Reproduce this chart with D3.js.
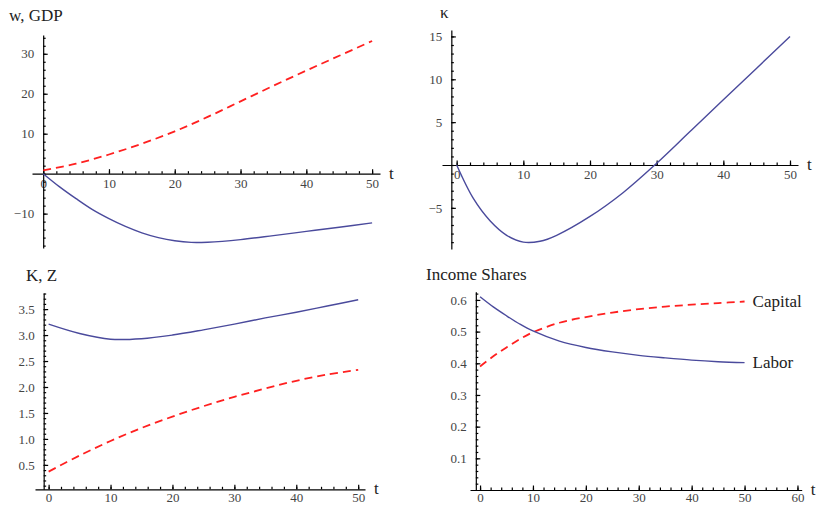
<!DOCTYPE html>
<html>
<head>
<meta charset="utf-8">
<script src="https://cdn.jsdelivr.net/npm/d3@7"></script>
<style>
  body { margin: 0; background: #fff; }
  svg text { font-family: "Liberation Serif", "DejaVu Serif", serif; }
  .axis path, .axis line { stroke: #000; stroke-width: 1.2px; }
  .line { fill: none; }
</style>
</head>
<body>
<div id="svg"></div>
<script>
// panel 1: w and GDP
var t1 = [0, 2.5, 5, 7.5, 10, 12.5, 15, 17.5, 20, 22.5, 25, 30, 35, 40, 45, 50];
var w_vals = [0, -3.3, -6.25, -9.0, -11.25, -13.2, -14.8, -16.0, -16.8, -17.2, -17.15, -16.5, -15.5, -14.45, -13.4, -12.3];
var tg = [0, 5, 10, 15, 20, 25, 30, 35, 40, 45, 50];
var gdp_vals = [0.8, 2.5, 4.8, 7.5, 10.6, 14.2, 18.1, 22.0, 25.8, 29.5, 33.2];

// panel 2: kappa
var t2 = [0, 2.5, 5, 7.5, 10, 12.5, 15, 20, 25, 30, 35, 40, 45, 50];
var kappa_vals = [0, -3.9, -6.5, -8.2, -9.0, -8.9, -8.2, -6.0, -3.2, 0.2, 3.9, 7.6, 11.3, 15.0];

// panel 3: K and Z
var t3 = [0, 5, 10, 15, 20, 25, 30, 35, 40, 45, 50];
var k_vals = [3.21, 3.03, 2.92, 2.93, 3.00, 3.10, 3.21, 3.33, 3.44, 3.56, 3.68];
var z_vals = [0.37, 0.68, 0.96, 1.21, 1.43, 1.63, 1.81, 1.97, 2.12, 2.24, 2.33];

// panel 4: income shares
var t4 = [0, 2.5, 5, 7.5, 10, 15, 20, 25, 30, 35, 40, 45, 50];
var labor_vals = [0.61, 0.578, 0.55, 0.524, 0.502, 0.47, 0.45, 0.436, 0.425, 0.417, 0.41, 0.405, 0.402];
var capital_vals = [0.39, 0.422, 0.45, 0.476, 0.498, 0.528, 0.546, 0.56, 0.571, 0.579, 0.585, 0.59, 0.595];

var blue = "#4a4a9c";
var red = "#ff2020";
var serif = "'Liberation Serif', 'DejaVu Serif', serif";

var svg = d3.select("#svg").append("svg")
  .attr("width", 820)
  .attr("height", 506);

function zip(ts, vs) {
  return ts.map(function(t, i) { return {t: t, v: vs[i]}; });
}

function range_ticks(a, b, step) {
  var out = [];
  var n = Math.round((b - a) / step);
  for (var i = 0; i <= n; i++) out.push(+(a + i * step).toFixed(4));
  return out;
}

function style_axis(s) {
  s.attr("font-family", serif).attr("font-size", 13);
  s.selectAll("text").attr("fill", "#444").attr("font-family", serif);
}

function panel(cfg) {
  var g = svg.append("g");
  var x = d3.scaleLinear().domain(cfg.xdom).range(cfg.xr);
  var y = d3.scaleLinear().domain(cfg.ydom).range(cfg.yr);

  var xaxis_y = y(cfg.xcross);
  var yaxis_x = x(cfg.ycross);

  // minor ticks first
  g.append("g")
  .attr("class", "axis")
  .attr("transform", "translate(0," + xaxis_y + ")")
  .call(d3.axisBottom(x).tickValues(cfg.xminor).tickSize(-2.5).tickSizeOuter(0).tickFormat(""));

  g.append("g")
  .attr("class", "axis")
  .attr("transform", "translate(0," + xaxis_y + ")")
  .call(d3.axisBottom(x).tickValues(cfg.xmajor).tickSize(-4.5).tickSizeOuter(0).tickPadding(cfg.xpad))
  .call(function(s) { s.select(".domain").remove(); })
  .call(style_axis);

  g.append("g")
  .attr("class", "axis")
  .attr("transform", "translate(" + yaxis_x + ",0)")
  .call(d3.axisLeft(y).tickValues(cfg.yminor).tickSize(-2.5).tickSizeOuter(0).tickFormat(""));

  g.append("g")
  .attr("class", "axis")
  .attr("transform", "translate(" + yaxis_x + ",0)")
  .call(d3.axisLeft(y).tickValues(cfg.ymajor).tickSize(-4.5).tickSizeOuter(0).tickPadding(9).tickFormat(cfg.yfmt))
  .call(function(s) { s.select(".domain").remove(); })
  .call(style_axis);

  var line = d3.line()
  .x(function(d) { return x(d.t); })
  .y(function(d) { return y(d.v); })
  .curve(d3.curveCatmullRom.alpha(0.5));

  cfg.series.forEach(function(s) {
    g.append("path")
    .datum(s.data)
    .attr("class", "line")
    .attr("d", line)
    .attr("stroke", s.color)
    .attr("stroke-width", s.dash ? 1.8 : 1.4)
    .attr("stroke-dasharray", s.dash ? "8,5" : null);
  });

  g.append("text")
  .text("t")
  .attr("x", cfg.xr[1] + 9)
  .attr("y", xaxis_y + 5)
  .attr("font-size", 17)
  .attr("font-family", serif)
  .attr("fill", "#222");

  g.append("text")
  .text(cfg.title)
  .attr("x", cfg.titlePos[0])
  .attr("y", cfg.titlePos[1])
  .attr("font-size", 17)
  .attr("font-family", serif)
  .attr("fill", "#222");

  (cfg.labels || []).forEach(function(l) {
    g.append("text")
    .text(l.text)
    .attr("x", x(l.t) + 8)
    .attr("y", y(l.v) + 5)
    .attr("font-size", 17)
    .attr("font-family", serif)
    .attr("fill", "#222");
  });
}

var fmtInt = d3.format("d");

panel({
  xdom: [-1.7, 51.2], xr: [32, 380],
  ydom: [-18.6, 34.7], yr: [248, 35],
  xcross: 0, ycross: 0, xpad: 5,
  xmajor: [0, 10, 20, 30, 40, 50], xminor: range_ticks(0, 50, 2),
  ymajor: [-10, 10, 20, 30], yminor: range_ticks(-18, 34, 2), yfmt: fmtInt,
  title: "w, GDP", titlePos: [9, 21],
  series: [
    {data: zip(tg, gdp_vals), color: red, dash: true},
    {data: zip(t1, w_vals), color: blue, dash: false}
  ]
});

panel({
  xdom: [-2.2, 51.2], xr: [442, 798],
  ydom: [-9.8, 15.75], yr: [249, 30],
  xcross: 0, ycross: -0.8, xpad: 5,
  xmajor: [0, 10, 20, 30, 40, 50], xminor: range_ticks(0, 50, 2),
  ymajor: [-5, 5, 10, 15], yminor: range_ticks(-9, 15, 1), yfmt: fmtInt,
  title: "\u03ba", titlePos: [440, 18],
  series: [
    {data: zip(t2, kappa_vals), color: blue, dash: false}
  ]
});

panel({
  xdom: [-2.2, 51.1], xr: [35, 365],
  ydom: [0.03, 3.81], yr: [489.3, 293],
  xcross: 0.03, ycross: -0.8, xpad: 3,
  xmajor: [0, 10, 20, 30, 40, 50], xminor: range_ticks(0, 50, 2),
  ymajor: [0.5, 1.0, 1.5, 2.0, 2.5, 3.0, 3.5], yminor: range_ticks(0.1, 3.8, 0.1), yfmt: d3.format(".1f"),
  title: "K, Z", titlePos: [26, 281],
  series: [
    {data: zip(t3, z_vals), color: red, dash: true},
    {data: zip(t3, k_vals), color: blue, dash: false}
  ]
});

panel({
  xdom: [-1.9, 60.8], xr: [470, 801.7],
  ydom: [0, 0.626], yr: [490, 291.7],
  xcross: 0, ycross: -0.8, xpad: 3,
  xmajor: [0, 10, 20, 30, 40, 50, 60], xminor: range_ticks(0, 60, 2),
  ymajor: [0.1, 0.2, 0.3, 0.4, 0.5, 0.6], yminor: range_ticks(0.02, 0.62, 0.02), yfmt: d3.format(".1f"),
  title: "Income Shares", titlePos: [426, 280],
  series: [
    {data: zip(t4, capital_vals), color: red, dash: true},
    {data: zip(t4, labor_vals), color: blue, dash: false}
  ],
  labels: [
    {text: "Capital", t: 50, v: 0.595},
    {text: "Labor", t: 50, v: 0.402}
  ]
});
</script>
</body>
</html>
